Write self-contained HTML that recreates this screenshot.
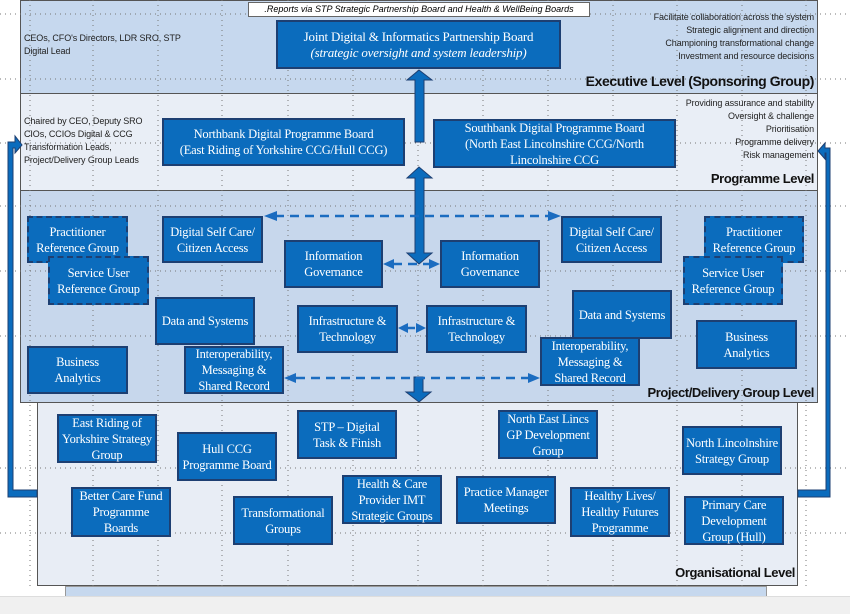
<!DOCTYPE html>
<html><head><meta charset="utf-8"><style>
body{margin:0;width:850px;height:613px;overflow:hidden;background:#fff;position:relative;font-family:"Liberation Serif",serif}
.band{position:absolute;border:1px solid #555;box-sizing:border-box}
.b{position:absolute;background:#0b6cbd;border:2px solid #1d3f72;box-sizing:border-box;color:#fff;font-size:12.5px;line-height:16px;display:flex;align-items:center;justify-content:center;text-align:center;font-family:"Liberation Serif",serif;letter-spacing:-0.2px}
.d{border:2px dashed #1d3f72}
.s{position:absolute;font-family:"Liberation Sans",sans-serif;font-size:9px;color:#222;line-height:13px;letter-spacing:-0.1px}
.r{text-align:right}
.t{position:absolute;font-family:"Liberation Sans",sans-serif;font-weight:bold;font-size:13px;color:#111;letter-spacing:-0.4px}
</style></head><body>
<div class="band" style="left:20px;top:0;width:798px;height:94px;background:#c6d8ee"></div>
<div class="band" style="left:20px;top:93px;width:798px;height:98px;background:#e9eef6"></div>
<div class="band" style="left:20px;top:190px;width:798px;height:213px;background:#c7d7ec"></div>
<div class="band" style="left:37px;top:402px;width:761px;height:184px;background:#e8edf5"></div>
<div style="position:absolute;left:65px;top:586px;width:700px;height:10px;background:#c6d8ee;border:1px solid #999"></div>
<div style="position:absolute;left:0;top:596px;width:850px;height:17px;background:#f0f0f0;border-top:1px solid #ddd"></div>
<svg style="position:absolute;left:0;top:0" width="850" height="613">
<g stroke="#777" stroke-width="1" stroke-dasharray="1,4">
<line x1="30" y1="0" x2="30" y2="590"/><line x1="93" y1="0" x2="93" y2="590"/><line x1="158" y1="0" x2="158" y2="590"/><line x1="222" y1="0" x2="222" y2="590"/><line x1="288" y1="0" x2="288" y2="590"/><line x1="353" y1="0" x2="353" y2="590"/><line x1="418" y1="0" x2="418" y2="590"/><line x1="483" y1="0" x2="483" y2="590"/><line x1="548" y1="0" x2="548" y2="590"/><line x1="613" y1="0" x2="613" y2="590"/><line x1="677" y1="0" x2="677" y2="590"/><line x1="742" y1="0" x2="742" y2="590"/><line x1="806" y1="0" x2="806" y2="590"/>
<line x1="0" y1="14" x2="850" y2="14"/><line x1="0" y1="79" x2="850" y2="79"/><line x1="0" y1="143" x2="850" y2="143"/><line x1="0" y1="206" x2="850" y2="206"/><line x1="0" y1="271" x2="850" y2="271"/><line x1="0" y1="336" x2="850" y2="336"/><line x1="0" y1="468" x2="850" y2="468"/><line x1="0" y1="533" x2="850" y2="533"/>
</g>
<g fill="#0b6cbd" stroke="#1d3f72" stroke-width="1">
<path d="M8 495 L8 142 L15 142 L15 136 L22 145 L15 153 L15 148 L13 148 L13 490 L37 490 L37 497 L8 497Z"/>
<path d="M830 497 L830 148 L825 148 L825 143 L818 151 L825 159 L825 153 L826 153 L826 490 L798 490 L798 497Z"/>
<path d="M415 142 L415 80 L407 80 L419 70 L432 80 L424 80 L424 142Z"/>
<path d="M415 178 L407 178 L419 167 L432 178 L424 178 L424 253 L432 253 L419 264 L407 253 L415 253Z"/>
<path d="M414 377 L423 377 L423 392 L431 392 L419 402 L406 392 L414 392Z"/>
</g>
<g stroke="#1b6cc0" stroke-width="2.5" stroke-dasharray="9,6" fill="none">
<line x1="275" y1="216" x2="550" y2="216"/><line x1="393" y1="264" x2="430" y2="264"/><line x1="296" y1="378" x2="528" y2="378"/><line x1="406" y1="328" x2="418" y2="328"/>
</g>
<g fill="#1b6cc0">
<path d="M264 216 L277 211 L277 221Z"/><path d="M561 216 L548 211 L548 221Z"/>
<path d="M383 264 L394 259 L394 269Z"/><path d="M440 264 L429 259 L429 269Z"/>
<path d="M398 328 L408 323 L408 333Z"/><path d="M426 328 L416 323 L416 333Z"/>
<path d="M284 378 L296 373 L296 383Z"/><path d="M540 378 L528 373 L528 383Z"/>
</g>
</svg>
<div style="position:absolute;left:248px;top:2px;width:342px;height:15px;background:#fff;border:1px solid #666;box-sizing:border-box;font-family:'Liberation Sans',sans-serif;font-style:italic;font-size:9px;text-align:center;line-height:13px">.Reports via STP Strategic Partnership Board and Health &amp; WellBeing Boards</div>
<div class="b" style="left:276px;top:20px;width:285px;height:49px;font-size:13px"><span>Joint Digital &amp; Informatics Partnership Board<br><i>(strategic oversight and system leadership)</i></span></div>
<div class="s" style="left:24px;top:32px">CEOs, CFO's Directors, LDR SRO, STP<br>Digital Lead</div>
<div class="s r" style="right:36px;top:11px">Facilitate collaboration across the system<br>Strategic alignment and direction<br>Championing transformational change<br>Investment and resource decisions</div>
<div class="t" style="right:36px;top:73px;font-size:14px">Executive Level (Sponsoring Group)</div>
<div class="s" style="left:24px;top:115px">Chaired by CEO, Deputy SRO<br>CIOs, CCIOs Digital &amp; CCG<br>Transformation Leads,<br>Project/Delivery Group Leads</div>
<div class="s r" style="right:36px;top:97px">Providing assurance and stability<br>Oversight &amp; challenge<br>Prioritisation<br>Programme delivery<br>Risk management</div>
<div class="t" style="right:36px;top:171px">Programme Level</div>
<div class="b" style="left:162px;top:118px;width:243px;height:48px"><span>Northbank Digital Programme Board<br>(East Riding of Yorkshire CCG/Hull CCG)</span></div>
<div class="b" style="left:433px;top:119px;width:243px;height:49px"><span>Southbank Digital Programme Board<br>(North East Lincolnshire CCG/North<br>Lincolnshire CCG</span></div>
<div class="b d" style="left:27px;top:216px;width:101px;height:47px;align-items:flex-start;padding-top:6px"><span>Practitioner<br>Reference Group</span></div>
<div class="b d" style="left:48px;top:256px;width:101px;height:49px"><span>Service User<br>Reference Group</span></div>
<div class="b" style="left:162px;top:216px;width:101px;height:47px"><span>Digital Self Care/<br>Citizen Access</span></div>
<div class="b" style="left:284px;top:240px;width:99px;height:48px"><span>Information<br>Governance</span></div>
<div class="b" style="left:155px;top:297px;width:100px;height:48px"><span>Data and Systems</span></div>
<div class="b" style="left:297px;top:305px;width:101px;height:48px"><span>Infrastructure &amp;<br>Technology</span></div>
<div class="b" style="left:27px;top:346px;width:101px;height:48px"><span>Business<br>Analytics</span></div>
<div class="b" style="left:184px;top:346px;width:100px;height:48px"><span>Interoperability,<br>Messaging &amp;<br>Shared Record</span></div>
<div class="b" style="left:440px;top:240px;width:100px;height:48px"><span>Information<br>Governance</span></div>
<div class="b" style="left:426px;top:305px;width:101px;height:48px"><span>Infrastructure &amp;<br>Technology</span></div>
<div class="b" style="left:561px;top:216px;width:101px;height:47px"><span>Digital Self Care/<br>Citizen Access</span></div>
<div class="b" style="left:540px;top:337px;width:100px;height:49px"><span>Interoperability,<br>Messaging &amp;<br>Shared Record</span></div>
<div class="b" style="left:572px;top:290px;width:100px;height:49px"><span>Data and Systems</span></div>
<div class="b d" style="left:704px;top:216px;width:100px;height:47px;align-items:flex-start;padding-top:6px"><span>Practitioner<br>Reference Group</span></div>
<div class="b d" style="left:683px;top:256px;width:100px;height:49px"><span>Service User<br>Reference Group</span></div>
<div class="b" style="left:696px;top:320px;width:101px;height:49px"><span>Business<br>Analytics</span></div>
<div class="t" style="right:36px;top:385px">Project/Delivery Group Level</div>
<div class="b" style="left:57px;top:414px;width:100px;height:49px"><span>East Riding of<br>Yorkshire Strategy<br>Group</span></div>
<div class="b" style="left:177px;top:432px;width:100px;height:49px"><span>Hull CCG<br>Programme Board</span></div>
<div class="b" style="left:297px;top:410px;width:100px;height:49px"><span>STP – Digital<br>Task &amp; Finish</span></div>
<div class="b" style="left:498px;top:410px;width:100px;height:49px"><span>North East Lincs<br>GP Development<br>Group</span></div>
<div class="b" style="left:682px;top:426px;width:100px;height:49px"><span>North Lincolnshire<br>Strategy Group</span></div>
<div class="b" style="left:71px;top:487px;width:100px;height:50px"><span>Better Care Fund<br>Programme<br>Boards</span></div>
<div class="b" style="left:233px;top:496px;width:100px;height:49px"><span>Transformational<br>Groups</span></div>
<div class="b" style="left:342px;top:475px;width:100px;height:49px"><span>Health &amp; Care<br>Provider IMT<br>Strategic Groups</span></div>
<div class="b" style="left:456px;top:476px;width:100px;height:48px"><span>Practice Manager<br>Meetings</span></div>
<div class="b" style="left:570px;top:487px;width:100px;height:50px"><span>Healthy Lives/<br>Healthy Futures<br>Programme</span></div>
<div class="b" style="left:684px;top:496px;width:100px;height:49px"><span>Primary Care<br>Development<br>Group (Hull)</span></div>
<div class="t" style="right:55px;top:565px">Organisational Level</div>
</body></html>
